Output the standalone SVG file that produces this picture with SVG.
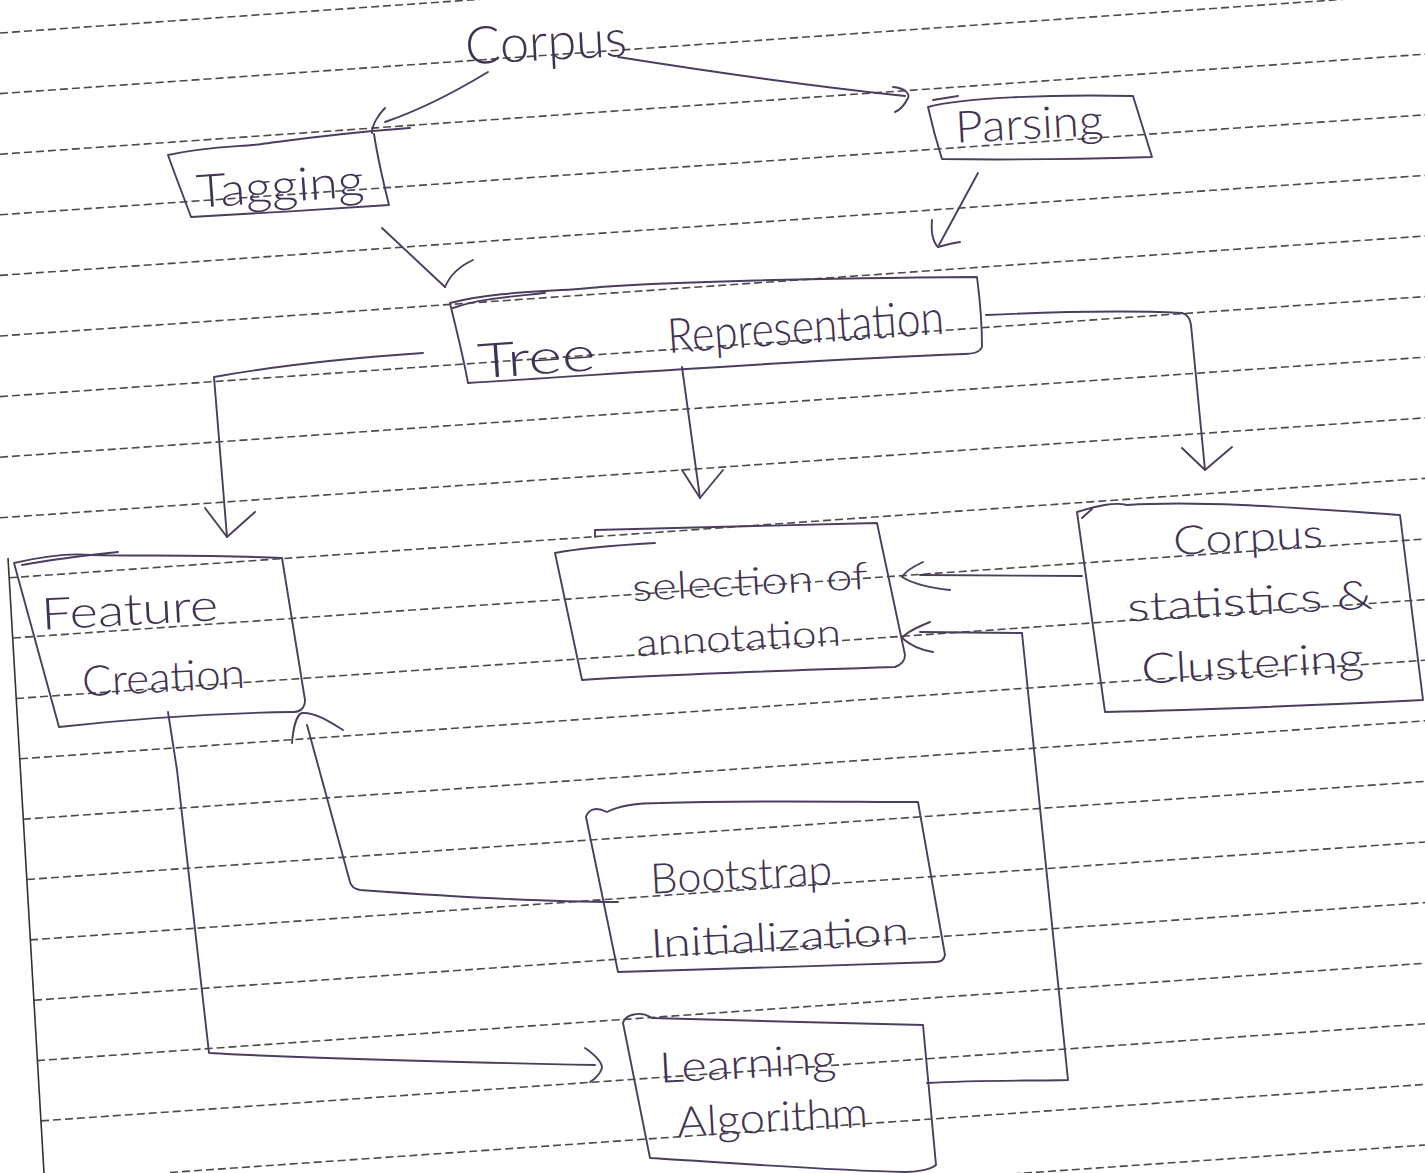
<svg xmlns="http://www.w3.org/2000/svg" width="1425" height="1173" viewBox="0 0 1425 1173">
<style>
.rule{stroke:#4a4a4a;stroke-width:1.6;stroke-dasharray:8 4;fill:none}
.margin{stroke:#333;stroke-width:1.6;fill:none}
.ink{fill:none;stroke:#4b3d5f;stroke-width:1.9;stroke-linecap:round;stroke-linejoin:round}
.t{font-family:Lato,"Liberation Sans",Arial,sans-serif;font-weight:300;fill:#3f3252}
</style>
<rect width="1425" height="1173" fill="#ffffff"/>
<g id="paper">
<line class="rule" x1="0" y1="33" x2="1425" y2="-67"/>
<line class="rule" x1="0" y1="93.6" x2="1425" y2="-6.4"/>
<line class="rule" x1="0" y1="154.2" x2="1425" y2="54.2"/>
<line class="rule" x1="0" y1="214.8" x2="1425" y2="114.8"/>
<line class="rule" x1="0" y1="275.4" x2="1425" y2="175.4"/>
<line class="rule" x1="0" y1="336" x2="1425" y2="236"/>
<line class="rule" x1="0" y1="396.6" x2="1425" y2="296.6"/>
<line class="rule" x1="0" y1="457.2" x2="1425" y2="357.2"/>
<line class="rule" x1="0" y1="517.8" x2="1425" y2="417.8"/>
<line class="rule" x1="9" y1="577.8" x2="1425" y2="478.4"/>
<line class="rule" x1="13" y1="638" x2="1425" y2="539"/>
<line class="rule" x1="16" y1="698.5" x2="1425" y2="599.6"/>
<line class="rule" x1="20" y1="758.8" x2="1425" y2="660.2"/>
<line class="rule" x1="23" y1="819.2" x2="1425" y2="720.8"/>
<line class="rule" x1="27" y1="879.5" x2="1425" y2="781.4"/>
<line class="rule" x1="30" y1="939.9" x2="1425" y2="842"/>
<line class="rule" x1="34" y1="1000.2" x2="1425" y2="902.6"/>
<line class="rule" x1="37" y1="1060.6" x2="1425" y2="963.2"/>
<line class="rule" x1="41" y1="1120.9" x2="1425" y2="1023.8"/>
<line class="rule" x1="170" y1="1172.5" x2="1425" y2="1084.4"/>
<line class="rule" x1="1000" y1="1174.8" x2="1425" y2="1145"/>
<path class="margin" d="M8,558 L44,1173"/>
</g>
<g id="connectors">
<path class="ink" d="M488,72 C450,95 420,110 385,122"/>
<path class="ink" d="M385,108 C378,115 372,125 372,133"/>
<path class="ink" d="M618,57 C700,70 800,85 905,96"/>
<path class="ink" d="M893,87 C905,88 910,94 908,98 C905,104 900,110 895,112"/>
<path class="ink" d="M382,228 L445,287"/>
<path class="ink" d="M445,287 C450,275 460,266 473,260"/>
<path class="ink" d="M978,173 L939,245"/>
<path class="ink" d="M932,220 C931,232 933,242 938,247 C945,245 952,243 960,242"/>
<path class="ink" d="M423,353 C350,358 280,365 214,377 L227,537"/>
<path class="ink" d="M205,508 L227,537 L255,512"/>
<path class="ink" d="M682,367 L700,498"/>
<path class="ink" d="M682,470 L700,498 L723,470"/>
<path class="ink" d="M986,315 C1050,312 1120,310 1182,313 C1186,314 1190,318 1191,325 L1205,470"/>
<path class="ink" d="M1182,448 L1205,470 L1232,447"/>
<path class="ink" d="M1082,576 L920,575"/>
<path class="ink" d="M923,562 C912,567 905,572 902,577 C915,585 930,588 950,590"/>
<path class="ink" d="M927,1083 C980,1080 1030,1081 1068,1080 L1022,633 L920,632"/>
<path class="ink" d="M930,622 C915,628 905,634 902,638 C910,645 920,650 933,652"/>
<path class="ink" d="M618,902 C560,902 470,898 360,890 C354,889 351,886 350,882 L307,725"/>
<path class="ink" d="M292,743 C293,730 296,715 302,713 C315,712 330,722 343,730"/>
<path class="ink" d="M168,712 L177,770 L209,1053 C300,1058 450,1062 595,1065"/>
<path class="ink" d="M585,1048 C595,1055 602,1062 602,1068 C600,1074 595,1079 590,1082"/>
</g>
<g id="corpus">
<text class="t" x="465" y="60" font-size="52" textLength="162" lengthAdjust="spacingAndGlyphs" transform="rotate(-3 546 45)">Corpus</text>
</g>
<g id="tagging">
<path class="ink" d="M168,155 C210,146 240,147 262,144 C300,139 340,133 410,128 M374,134 C378,160 384,185 389,205 C330,209 250,214 191,217 C183,195 175,175 168,155"/>
<text class="t" x="196" y="202" font-size="46" textLength="168" lengthAdjust="spacingAndGlyphs" transform="rotate(-4 280 185)">Tagging</text>
</g>
<g id="parsing">
<path class="ink" d="M928,107 C960,98 1050,94 1133,96 L1152,157 C1080,159 1000,160 942,159 C936,140 932,125 928,107 Z M933,100 L958,96"/>
<text class="t" x="955" y="139" font-size="44" textLength="148" lengthAdjust="spacingAndGlyphs" transform="rotate(-3 1029 120)">Parsing</text>
</g>
<g id="tree">
<path class="ink" d="M450,303 C500,290 560,292 600,287 C700,280 850,278 977,277 C980,300 982,330 982,347 C980,352 975,354 964,354 C800,360 600,375 468,383 C462,350 455,325 450,303 Z M453,308 C480,298 520,296 545,293"/>
<text class="t" x="477" y="362" font-size="48" textLength="118" lengthAdjust="spacingAndGlyphs" transform="rotate(-4 711 345)">Tree</text>
<text class="t" x="668" y="350" font-size="48" textLength="277" lengthAdjust="spacingAndGlyphs" transform="rotate(-4 711 345)">Representation</text>
</g>
<g id="feature">
<path class="ink" d="M14,563 C40,557 70,553 91,555 C150,556 220,555 282,558 L305,700 C305,708 300,712 294,712 C220,713 140,718 59,727 L14,563 M22,565 C50,560 80,556 118,552"/>
<text class="t" x="41" y="625" font-size="44" textLength="177" lengthAdjust="spacingAndGlyphs" transform="rotate(-3 130 610)">Feature</text>
<text class="t" x="82" y="692" font-size="42" textLength="163" lengthAdjust="spacingAndGlyphs" transform="rotate(-3 163 678)">Creation</text>
</g>
<g id="selection">
<path class="ink" d="M595,537 L595,530 C700,528 800,525 877,523 L905,655 C905,660 903,664 895,667 C800,670 650,675 582,680 L555,553 C580,548 620,545 655,543"/>
<text class="t" x="632" y="595" font-size="38" textLength="236" lengthAdjust="spacingAndGlyphs" transform="rotate(-3 750 582)">selection of</text>
<text class="t" x="636" y="651" font-size="38" textLength="205" lengthAdjust="spacingAndGlyphs" transform="rotate(-3 738 640)">annotation</text>
</g>
<g id="stats">
<path class="ink" d="M1077,512 C1100,505 1115,502 1127,505 C1200,500 1300,508 1400,515 L1423,700 C1320,705 1200,710 1105,712 L1077,512 M1082,518 L1092,509"/>
<text class="t" x="1173" y="551" font-size="40" textLength="150" lengthAdjust="spacingAndGlyphs" transform="rotate(-3 1248 538)">Corpus</text>
<text class="t" x="1127" y="615" font-size="40" textLength="246" lengthAdjust="spacingAndGlyphs" transform="rotate(-3 1250 600)">statistics &amp;</text>
<text class="t" x="1141" y="678" font-size="42" textLength="223" lengthAdjust="spacingAndGlyphs" transform="rotate(-3 1252 664)">Clustering</text>
</g>
<g id="bootstrap">
<path class="ink" d="M586,817 C588,810 595,806 607,812 C620,805 640,803 660,803 C750,800 850,802 918,802 L945,955 C944,960 940,962 936,962 C840,965 700,970 618,972 L586,817"/>
<text class="t" x="650" y="889" font-size="42" textLength="182" lengthAdjust="spacingAndGlyphs" transform="rotate(-3 741 872)">Bootstrap</text>
<text class="t" x="650" y="951" font-size="40" textLength="259" lengthAdjust="spacingAndGlyphs" transform="rotate(-3 780 935)">Initialization</text>
</g>
<g id="learning">
<path class="ink" d="M623,1023 C625,1015 640,1010 652,1018 C700,1020 850,1023 923,1025 L936,1165 C930,1170 915,1172 905,1172 C820,1170 720,1162 650,1158 L623,1023"/>
<text class="t" x="659" y="1078" font-size="42" textLength="177" lengthAdjust="spacingAndGlyphs" transform="rotate(-3 748 1062)">Learning</text>
<text class="t" x="677" y="1132" font-size="42" textLength="191" lengthAdjust="spacingAndGlyphs" transform="rotate(-3 772 1118)">Algorithm</text>
</g>
</svg>
